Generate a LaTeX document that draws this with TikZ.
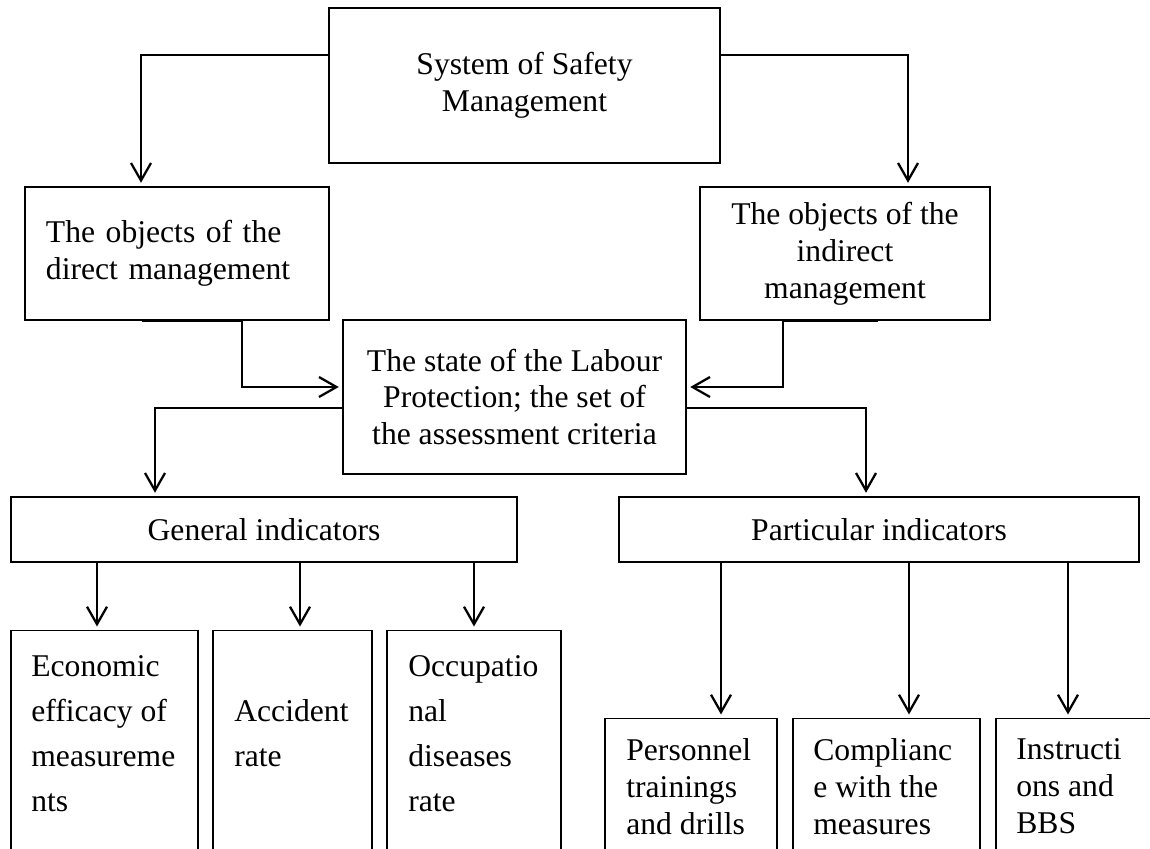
\documentclass[tikz,border=0pt]{standalone}
\usepackage{fontspec}
\setmainfont{Liberation Serif}
\usetikzlibrary{arrows.meta}

\tikzset{
	box/.style={draw, line width=0.8pt, inner sep=0pt, align=center, font=\fontsize{18}{21}\selectfont},
	subbox/.style={draw, line width=0.8pt, inner sep=0pt, anchor=north, minimum height=48mm},
	subtext/.style={inner sep=0pt, anchor=north west, align=left, font=\fontsize{18}{21}\selectfont},
	arr/.style={line width=1.3pt, -{Straight Barb[length=3.5mm, width=4mm, line width=1.3pt]}, shorten >=0.7mm}
}

\begin{document}
\begin{tikzpicture}[x=0.2mm, y=-0.2mm]
		%%%%% START %%%%%
		\useasboundingbox (0, 0) rectangle (1150, 848);
		
		\node[box, minimum width=78.2mm, minimum height=31mm] (top) at (524.5, 85.5) {System of Safety\\Management};
		
		\node[box, minimum height=26.6mm, inner xsep=4.2mm, text width=52.4mm, align=left] (direct) at (177, 253.5) {The objects of the\\direct management};
		\node[box, minimum width=58mm, minimum height=26.6mm] (indirect) at (845, 253.5) {The objects of the\\indirect\\management};
		
		\node[box, minimum width=68.6mm, minimum height=30.8mm] (mid) at (514.5, 397) {The state of the Labour\\Protection; the set of\\the assessment criteria};
		
		\node[box, minimum width=101.2mm, minimum height=13mm] (general) at (264, 529.5) {General indicators};
		\node[box, minimum width=104mm, minimum height=13mm] (particular) at (879, 529.5) {Particular indicators};
		
		% general indicators
		\node[subbox, minimum width=37.4mm] (econ) at (104.5, 630) {};
		\node[subbox, minimum width=31.8mm] (accident) at (292.5, 630) {};
		\node[subbox, minimum width=34.8mm] (occ) at (474, 630) {};
		\node[subtext, font=\fontsize{18}{25.6}\selectfont] (econ-t) at (31, 655) {Economic\\efficacy of\\measureme\\nts};
		\node[subtext, font=\fontsize{18}{25.6}\selectfont] (accident-t) at (234, 699) {Accident\\rate};
		\node[subtext, font=\fontsize{18}{25.6}\selectfont] (occ-t) at (408, 655) {Occupatio\\nal\\diseases\\rate};
		
		% particular indicators
		\node[subbox, minimum width=34.4mm] (personnel) at (691, 718) {};
		\node[subbox, minimum width=37.4mm] (compliance) at (886.5, 718) {};
		\node[subbox, minimum width=33.8mm] (instructions) at (1080.5, 718) {};
		\node[subtext] (personnel-t) at (626, 738) {Personnel\\trainings\\and drills};
		\node[subtext] (compliance-t) at (813, 738) {Complianc\\e with the\\measures};
		\node[subtext] (instructions-t) at (1016, 738) {Instructi\\ons and\\BBS};
		
		% connectors
		\draw[arr] (top.west |- 0,55) -| (direct.north -| 141,0);
		\draw[arr] (top.east |- 0,55) -| (indirect.north -| 908,0);
		
		\draw[arr] (direct.south -| 142,0) -- (direct.south -| 242,0) |- (mid.west |- 0,387);
		\draw[arr] (indirect.south -| 878,0) -- (indirect.south -| 783,0) |- (mid.east |- 0,387);
		
		\draw[arr] (mid.west |- 0,408) -| (general.north -| 155,0);
		\draw[arr] (mid.east |- 0,408) -| (particular.north -| 866,0);
		
		\foreach \x/\n in {97/econ, 300/accident, 474/occ}
			\draw[arr] (general.south -| \x,0) -- (\n.north -| \x,0);
		\foreach \x/\n in {721/personnel, 909/compliance, 1068/instructions}
			\draw[arr] (particular.south -| \x,0) -- (\n.north -| \x,0);
		
		%%%%% END %%%%%
	\end{tikzpicture}
\end{document}
